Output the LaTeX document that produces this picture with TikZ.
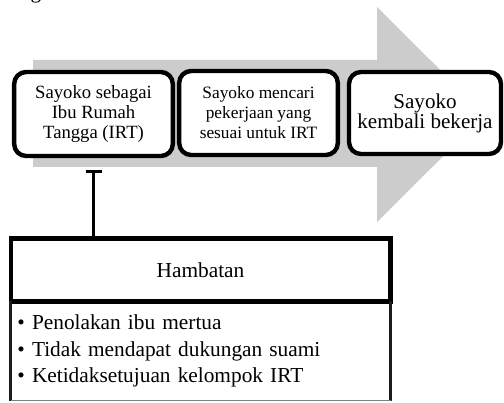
\documentclass[tikz,border=0pt]{standalone}
\usepackage{fontspec}
\setmainfont{Liberation Serif}
\usepackage{tikz}
\usetikzlibrary{arrows.meta}
\definecolor{arrowgray}{RGB}{204,204,204}
\definecolor{boxdark}{RGB}{28,28,28}

\tikzset{
  stage/.style={draw, line width=3.3pt, rounded corners=9pt, fill=white, align=center, inner sep=0pt, minimum height=63pt},
  header/.style={draw, line width=3.4pt, fill=white, inner sep=0pt, minimum width=284.6pt, minimum height=47.6pt, font=\fontsize{16}{16}\selectfont},
}

\begin{document}
\begin{tikzpicture}[x=0.75pt,y=0.75pt,yscale=-1]
\useasboundingbox (0,0) rectangle (504,403);

%Caption cut off at the top
\node [font=\fontsize{16}{16}\selectfont, anchor=base, inner sep=0pt] (capt) at (36,-1) {g};

%Shape: Right Arrow
\fill [arrowgray] (33,60) -- (377,60) -- (377,7) -- (485,114.5) -- (377,222) -- (377,167) -- (33,167) -- cycle ;

% Text Node
\node [stage, minimum width=119pt, font=\fontsize{14}{15}\selectfont] (irt) at (93.5,114) {Sayoko sebagai\\Ibu Rumah\\Tangga (IRT)};
% Text Node
\node [stage, minimum width=119pt, font=\fontsize{13}{15}\selectfont] (cari) at (258.5,113) {Sayoko mencari\\pekerjaan yang\\sesuai untuk IRT};
% Text Node
\node [stage, minimum width=114pt, minimum height=61.5pt, font=\fontsize{15.8}{15}\selectfont] (kerja) at (425,113) {Sayoko\\kembali bekerja};

%Shape: Rectangle
\node [header] (hambatan) at (200.5,270) {Hambatan};
% Text Node
\node [inner xsep=5pt, inner ysep=0pt, minimum width=284.6pt, minimum height=74.25pt, text width=274.6pt, align=left, font=\fontsize{16}{20}\selectfont] (list) at (200.5,351) {\textbullet\ Penolakan ibu mertua\\\textbullet\ Tidak mendapat dukungan suami\\\textbullet\ Ketidaksetujuan kelompok IRT};
\draw [boxdark, line width=2.8pt] (list.north west) -- (list.south west) (list.north east) -- (list.south east) ;
\draw [gray, line width=0.8pt] (list.south west) -- (list.south east) ;

%Straight Lines
\draw [line width=1.7pt, -{Bar[width=12pt, line width=2.4pt]}, shorten >=9pt] (hambatan.north -| irt.south) -- (irt.south) ;

\end{tikzpicture}
\end{document}
